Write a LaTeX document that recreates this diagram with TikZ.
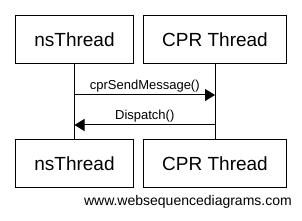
\documentclass[tikz,border=0pt]{standalone}
\usepackage{fontspec}
\setmainfont{Liberation Sans}
\usepackage{tikz}
\usetikzlibrary{arrows.meta,positioning,calc}

\begin{document}
\begin{tikzpicture}[
    x=1pt, y=-1pt,
    actor/.style={draw, line width=1pt, minimum height=48pt, inner sep=0pt,
        text centered, font=\fontsize{19}{22}\selectfont},
    lifeline/.style={draw, line width=1pt},
    msg/.style={draw, line width=1pt, -{Triangle[length=10pt,width=12pt]}},
    msglabel/.style={font=\fontsize{13}{15}\selectfont, inner sep=1pt},
    >=Stealth
]
\useasboundingbox (0,0) rectangle (302,221);

% --- Actors (top) ---
\node[actor, minimum width=118pt] (nstop) at (74.5, 40) {nsThread};
\node[actor, minimum width=143pt] (cprtop) at (215, 40) {CPR Thread};

% --- Actors (bottom) ---
\node[actor, minimum width=118pt] (nsbot) at (74.5, 163.25) {nsThread};
\node[actor, minimum width=143pt] (cprbot) at (215, 163.25) {CPR Thread};

% --- Lifelines ---
\draw[lifeline] (nstop.south) -- (nsbot.north);
\draw[lifeline] (cprtop.south) -- (cprbot.north);

% --- Messages ---
\coordinate (sendy) at (0, 95);
\coordinate (dispy) at (0, 125);
\draw[msg] (nstop.south |- sendy) -- (cprtop.south |- sendy)
    node[msglabel, midway, above=1pt] {cprSendMessage()};
\draw[msg] (cprtop.south |- dispy) -- (nstop.south |- dispy)
    node[msglabel, midway, above=1pt] {Dispatch()};

% Watermark
\node[font=\fontsize{14}{16}\selectfont, anchor=base east, inner sep=0pt] (credit) at (292, 206)
    {www.websequencediagrams.com};

\end{tikzpicture}
\end{document}
